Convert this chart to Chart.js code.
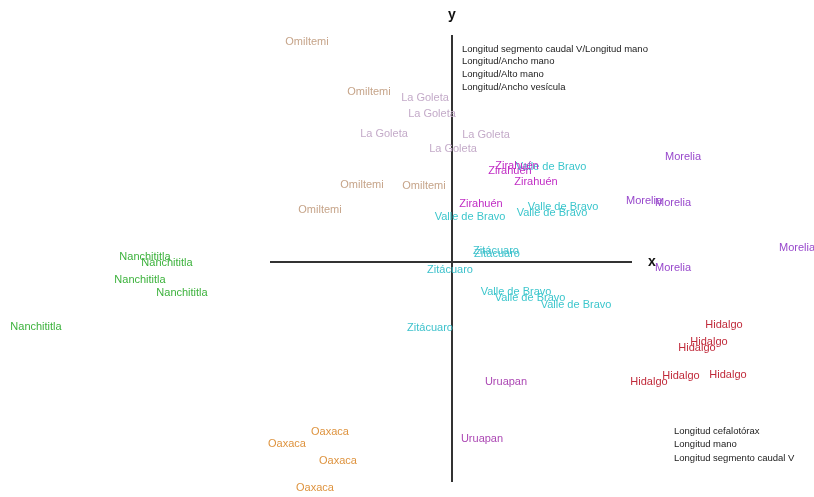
<!DOCTYPE html>
<html>
<head>
<meta charset="utf-8">
<script src="https://cdn.jsdelivr.net/npm/chart.js@4.4.1/dist/chart.umd.min.js"></script>
<style>
  body { margin: 0; background: #fff; }
  #wrap { width: 814px; height: 497px; }
</style>
</head>
<body>
<div id="wrap"><canvas id="chart" width="814" height="497"></canvas></div>
<script>
// scores (x = axis 1, y = axis 2)
let omiltemiX = [-1.45, -0.83, -0.90, -0.28, -1.32];
let omiltemiY = [2.20, 1.70, 0.77, 0.76, 0.52];
let goletaX = [-0.27, -0.20, -0.68, 0.34, 0.01];
let goletaY = [1.64, 1.48, 1.28, 1.27, 1.13];
let zirahuenX = [0.65, 0.58, 0.84, 0.29];
let zirahuenY = [0.96, 0.91, 0.80, 0.58];
let valleX = [0.99, 0.18, 1.11, 1.00, 0.64, 0.78, 1.24];
let valleY = [0.95, 0.45, 0.55, 0.49, -0.30, -0.36, -0.43];
let zitacuaroX = [0.44, 0.45, -0.02, -0.22];
let zitacuaroY = [0.11, 0.08, -0.08, -0.66];
let moreliaX = [2.31, 1.92, 2.21, 3.45, 2.21];
let moreliaY = [1.05, 0.61, 0.59, 0.14, -0.06];
let hidalgoX = [2.72, 2.57, 2.45, 2.29, 2.76, 1.97];
let hidalgoY = [-0.63, -0.80, -0.86, -1.14, -1.13, -1.20];
let uruapanX = [0.54, 0.30];
let uruapanY = [-1.20, -1.77];
let oaxacaX = [-1.22, -1.65, -1.14, -1.37];
let oaxacaY = [-1.70, -1.82, -1.99, -2.26];
let nanchX = [-3.07, -2.85, -3.12, -2.70, -4.16];
let nanchY = [0.05, -0.01, -0.18, -0.31, -0.65];

// variable loadings text
let loadingsUp = ['Longitud segmento caudal V/Longitud mano', 'Longitud/Ancho mano', 'Longitud/Alto mano', 'Longitud/Ancho vesícula'];
let loadingsRight = ['Longitud cefalotórax', 'Longitud mano', 'Longitud segmento caudal V'];

let groups = [
    { name: 'Omiltemi', xs: omiltemiX, ys: omiltemiY, color: '#c6a489' },
    { name: 'La Goleta', xs: goletaX, ys: goletaY, color: '#c4abc9' },
    { name: 'Valle de Bravo', xs: valleX, ys: valleY, color: '#3cc6cc' },
    { name: 'Zirahuén', xs: zirahuenX, ys: zirahuenY, color: '#c02cc4' },
    { name: 'Zitácuaro', xs: zitacuaroX, ys: zitacuaroY, color: '#3ec2cc' },
    { name: 'Morelia', xs: moreliaX, ys: moreliaY, color: '#9848cc' },
    { name: 'Hidalgo', xs: hidalgoX, ys: hidalgoY, color: '#c02a3a' },
    { name: 'Uruapan', xs: uruapanX, ys: uruapanY, color: '#ac48b4' },
    { name: 'Oaxaca', xs: oaxacaX, ys: oaxacaY, color: '#de933e' },
    { name: 'Nanchititla', xs: nanchX, ys: nanchY, color: '#3cb23c' }
];

let datasets = groups.map(g => {
    return {
        label: g.name,
        data: g.xs.map((x, i) => ({ x: x, y: g.ys[i] })),
        pointRadius: 0,
        showLine: false,
        color: g.color
    }
});

// the two axes drawn as lines through the origin
datasets.push({ label: 'axisX', data: [{ x: -1.82, y: 0 }, { x: 1.80, y: 0 }], showLine: true, borderColor: '#333', borderWidth: 2, pointRadius: 0 });
datasets.push({ label: 'axisY', data: [{ x: 0, y: 2.27 }, { x: 0, y: -2.20 }], showLine: true, borderColor: '#333', borderWidth: 2, pointRadius: 0 });

// write site names at their points, plus the axis letters and loadings
let labelPlugin = {
    id: 'siteLabels',
    afterDatasetsDraw(chart) {
        let ctx = chart.ctx;
        let xs = chart.scales.x, ys = chart.scales.y;
        ctx.save();
        ctx.textAlign = 'center';
        ctx.textBaseline = 'middle';
        ctx.font = '11px "Liberation Sans", Arial, sans-serif';
        chart.data.datasets.forEach((ds, i) => {
            if (!ds.color) return;
            chart.getDatasetMeta(i).data.forEach(pt => {
                ctx.fillStyle = ds.color;
                ctx.fillText(ds.label, pt.x, pt.y);
            });
        });
        // axis letters
        ctx.fillStyle = '#111';
        ctx.font = 'bold 14px "Liberation Sans", Arial, sans-serif';
        ctx.fillText('y', xs.getPixelForValue(0), ys.getPixelForValue(2.47));
        ctx.fillText('x', xs.getPixelForValue(2.00), ys.getPixelForValue(0));
        // loadings lists
        ctx.textAlign = 'left';
        ctx.font = '9.5px "Liberation Sans", Arial, sans-serif';
        ctx.fillStyle = '#222';
        loadingsUp.forEach((t, i) => {
            ctx.fillText(t, xs.getPixelForValue(0.10), ys.getPixelForValue(2.13) + i * 12.8);
        });
        loadingsRight.forEach((t, i) => {
            ctx.fillText(t, xs.getPixelForValue(2.22), ys.getPixelForValue(-1.69) + i * 13.5);
        });
        ctx.restore();
    }
};

let chart = new Chart(document.getElementById('chart'), {
    type: 'scatter',
    data: { datasets: datasets },
    options: {
        responsive: false,
        animation: false,
        layout: { padding: 0 },
        plugins: { legend: { display: false }, tooltip: { enabled: false } },
        scales: {
            x: { display: false, min: -4.52, max: 3.62 },
            y: { display: false, min: -2.35, max: 2.62 }
        }
    },
    plugins: [labelPlugin]
});
</script>
</body>
</html>
